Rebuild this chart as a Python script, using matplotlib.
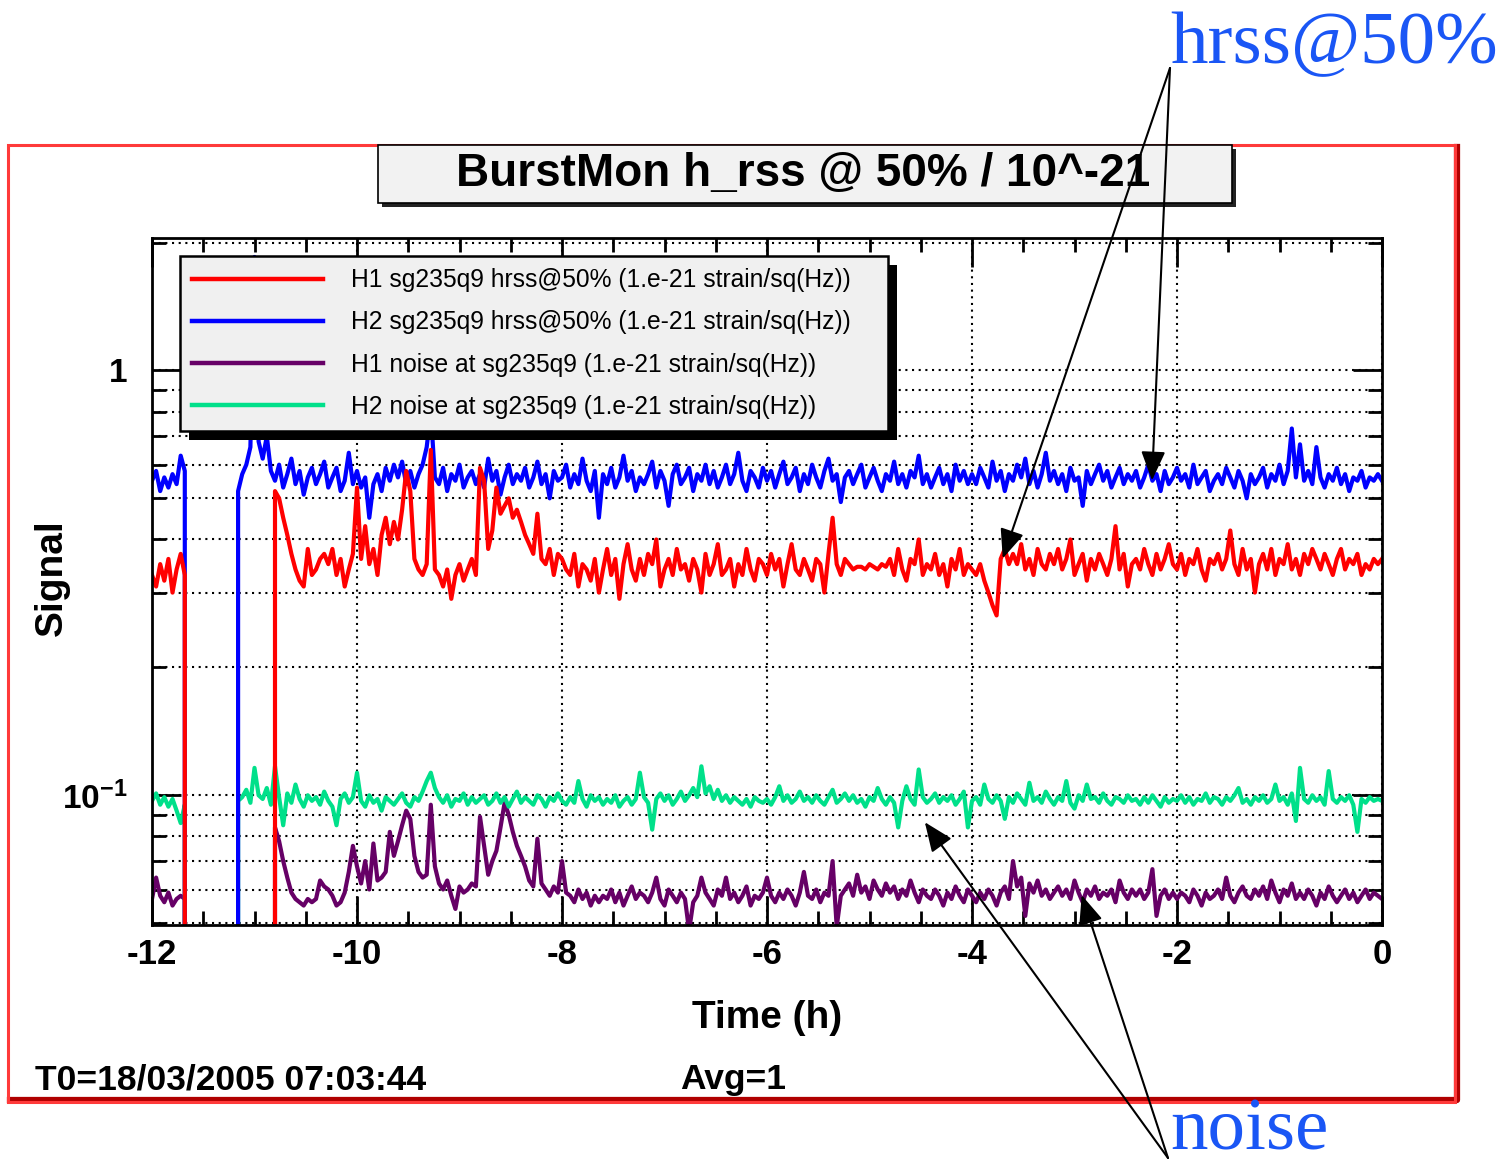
import numpy as np
import matplotlib
matplotlib.use('Agg')
import matplotlib.pyplot as plt
import matplotlib.patches as mpatches
import matplotlib.ticker as mticker
from matplotlib.lines import Line2D
from matplotlib import font_manager

# data: one sample every 0.04 h from -12 h to 0 h, 0 = no data
h1_hrss = [
    0.33, 0.31, 0.35, 0.32, 0.36, 0.30, 0.34, 0.37, 0.33, 0,
    0, 0, 0, 0, 0, 0, 0, 0, 0, 0,
    0, 0, 0, 0, 0, 0, 0, 0, 0, 0,
    0.52, 0.50, 0.45, 0.41, 0.37, 0.34, 0.32, 0.31, 0.38, 0.33,
    0.34, 0.36, 0.37, 0.35, 0.38, 0.33, 0.36, 0.31, 0.34, 0.37,
    0.53, 0.36, 0.43, 0.35, 0.38, 0.33, 0.41, 0.45, 0.39, 0.44,
    0.40, 0.47, 0.58, 0.52, 0.36, 0.34, 0.33, 0.35, 0.65, 0.34,
    0.33, 0.31, 0.34, 0.29, 0.33, 0.35, 0.32, 0.34, 0.36, 0.33,
    0.59, 0.55, 0.38, 0.42, 0.53, 0.46, 0.48, 0.50, 0.45, 0.47,
    0.44, 0.41, 0.39, 0.37, 0.46, 0.36, 0.35, 0.38, 0.33, 0.37,
    0.36, 0.34, 0.33, 0.37, 0.31, 0.35, 0.34, 0.32, 0.36, 0.30,
    0.34, 0.38, 0.33, 0.36, 0.29, 0.35, 0.39, 0.34, 0.32, 0.36,
    0.33, 0.37, 0.35, 0.40, 0.31, 0.34, 0.36, 0.33, 0.38, 0.34,
    0.35, 0.32, 0.36, 0.34, 0.30, 0.37, 0.33, 0.35, 0.39, 0.33,
    0.34, 0.36, 0.31, 0.35, 0.33, 0.38, 0.34, 0.32, 0.36, 0.35,
    0.33, 0.37, 0.34, 0.36, 0.31, 0.35, 0.39, 0.34, 0.33, 0.36,
    0.34, 0.32, 0.36, 0.35, 0.30, 0.37, 0.45, 0.35, 0.33, 0.36,
    0.35, 0.34, 0.345, 0.345, 0.34, 0.35, 0.345, 0.34, 0.35, 0.345,
    0.36, 0.33, 0.38, 0.34, 0.32, 0.36, 0.35, 0.40, 0.33, 0.35,
    0.34, 0.37, 0.33, 0.35, 0.31, 0.36, 0.34, 0.38, 0.33, 0.35,
    0.34, 0.33, 0.35, 0.32, 0.30, 0.28, 0.265, 0.36, 0.38, 0.35,
    0.37, 0.35, 0.39, 0.34, 0.36, 0.33, 0.38, 0.35, 0.34, 0.37,
    0.35, 0.38, 0.34, 0.36, 0.40, 0.33, 0.35, 0.37, 0.32, 0.36,
    0.34, 0.37, 0.35, 0.33, 0.36, 0.43, 0.34, 0.37, 0.31, 0.35,
    0.36, 0.34, 0.38, 0.35, 0.33, 0.37, 0.34, 0.36, 0.39, 0.35,
    0.34, 0.37, 0.33, 0.36, 0.35, 0.38, 0.34, 0.32, 0.36, 0.35,
    0.37, 0.34, 0.36, 0.42, 0.35, 0.33, 0.38, 0.34, 0.36, 0.30,
    0.35, 0.37, 0.34, 0.38, 0.33, 0.36, 0.35, 0.39, 0.34, 0.36,
    0.33, 0.37, 0.35, 0.38, 0.36, 0.34, 0.37, 0.35, 0.33, 0.36,
    0.38, 0.34, 0.36, 0.35, 0.37, 0.33, 0.35, 0.34, 0.36, 0.35,
    0.36]

h2_hrss = [
    0.55, 0.58, 0.52, 0.56, 0.53, 0.57, 0.54, 0.63, 0.58, 0,
    0, 0, 0, 0, 0, 0, 0, 0, 0, 0,
    0, 0.52, 0.57, 0.60, 0.66, 1.85, 0.68, 0.62, 0.70, 0.58,
    0.55, 0.60, 0.53, 0.57, 0.62, 0.54, 0.58, 0.51, 0.56, 0.59,
    0.54, 0.57, 0.61, 0.53, 0.56, 0.59, 0.52, 0.55, 0.64, 0.54,
    0.58, 0.53, 0.56, 0.45, 0.54, 0.57, 0.52, 0.59, 0.55, 0.60,
    0.56, 0.61, 0.54, 0.58, 0.53, 0.57, 0.60, 0.66, 0.80, 0.56,
    0.54, 0.59, 0.52, 0.57, 0.55, 0.60, 0.53, 0.56, 0.58, 0.54,
    0.57, 0.53, 0.62, 0.55, 0.58, 0.51, 0.56, 0.60, 0.54, 0.57,
    0.55, 0.59, 0.53, 0.56, 0.61, 0.54, 0.57, 0.50, 0.58, 0.55,
    0.56, 0.60, 0.53, 0.57, 0.54, 0.62, 0.55, 0.52, 0.58, 0.45,
    0.57, 0.54, 0.59, 0.53, 0.56, 0.63, 0.55, 0.58, 0.52, 0.56,
    0.54, 0.57, 0.61, 0.53, 0.58, 0.55, 0.48, 0.57, 0.60, 0.54,
    0.56, 0.59, 0.52, 0.57, 0.55, 0.60, 0.54, 0.58, 0.53, 0.56,
    0.60, 0.54, 0.57, 0.64, 0.55, 0.52, 0.58, 0.56, 0.53, 0.59,
    0.55, 0.58, 0.53, 0.57, 0.61, 0.54, 0.56, 0.59, 0.52, 0.57,
    0.54, 0.60, 0.56, 0.53, 0.58, 0.62, 0.55, 0.57, 0.49, 0.56,
    0.58, 0.54, 0.57, 0.60, 0.53, 0.56, 0.59, 0.55, 0.52, 0.57,
    0.55, 0.61, 0.54, 0.57, 0.53, 0.58, 0.56, 0.63, 0.54, 0.57,
    0.53, 0.56, 0.59, 0.54, 0.57, 0.52, 0.60, 0.55, 0.58, 0.54,
    0.57, 0.54, 0.59, 0.56, 0.53, 0.61, 0.55, 0.58, 0.52, 0.57,
    0.55, 0.60, 0.56, 0.62, 0.54, 0.58, 0.53, 0.57, 0.64, 0.55,
    0.58, 0.54, 0.57, 0.52, 0.59, 0.55, 0.56, 0.48, 0.58, 0.54,
    0.57, 0.60, 0.55, 0.58, 0.53, 0.56, 0.59, 0.54, 0.57, 0.55,
    0.58, 0.53, 0.56, 0.60, 0.55, 0.57, 0.52, 0.58, 0.54, 0.56,
    0.59, 0.55, 0.57, 0.53, 0.60, 0.54, 0.56, 0.58, 0.52, 0.55,
    0.57, 0.54, 0.59, 0.56, 0.53, 0.58, 0.55, 0.50, 0.57, 0.54,
    0.56, 0.59, 0.53, 0.57, 0.55, 0.60, 0.54, 0.58, 0.73, 0.56,
    0.67, 0.55, 0.58, 0.54, 0.66, 0.56, 0.53, 0.57, 0.55, 0.59,
    0.54, 0.57, 0.52, 0.56, 0.55, 0.58, 0.53, 0.56, 0.55, 0.57,
    0.55]

h1_noise = [
    0.057, 0.064, 0.058, 0.056, 0.059, 0.055, 0.057, 0.058, 0.057, 0,
    0, 0, 0, 0, 0, 0, 0, 0, 0, 0,
    0, 0, 0, 0, 0, 0, 0, 0, 0, 0,
    0.084, 0.078, 0.070, 0.064, 0.059, 0.057, 0.056, 0.055, 0.057, 0.056,
    0.057, 0.063, 0.061, 0.060, 0.058, 0.055, 0.056, 0.059, 0.066, 0.076,
    0.068, 0.062, 0.070, 0.060, 0.077, 0.063, 0.064, 0.066, 0.082, 0.072,
    0.078, 0.085, 0.092, 0.088, 0.072, 0.066, 0.064, 0.065, 0.095, 0.068,
    0.062, 0.060, 0.063, 0.058, 0.054, 0.061, 0.059, 0.060, 0.062, 0.061,
    0.089, 0.076, 0.065, 0.070, 0.074, 0.084, 0.096, 0.090, 0.082, 0.076,
    0.072, 0.068, 0.063, 0.061, 0.079, 0.062, 0.060, 0.058, 0.061, 0.059,
    0.070, 0.059, 0.058, 0.056, 0.060, 0.057, 0.059, 0.055, 0.058, 0.056,
    0.058, 0.057, 0.060, 0.056, 0.059, 0.055, 0.058, 0.061, 0.057, 0.059,
    0.058, 0.056, 0.059, 0.064, 0.057, 0.055, 0.060, 0.058, 0.056, 0.059,
    0.057, 0.048, 0.056, 0.058, 0.064, 0.059, 0.057, 0.055, 0.060, 0.058,
    0.064, 0.057, 0.059, 0.056, 0.058, 0.061, 0.055, 0.058, 0.057, 0.059,
    0.064, 0.058, 0.056, 0.059, 0.057, 0.060, 0.058, 0.055, 0.059, 0.066,
    0.058, 0.057, 0.060, 0.056, 0.059, 0.058, 0.070, 0.049, 0.058, 0.060,
    0.062, 0.058, 0.065, 0.059, 0.061, 0.057, 0.063, 0.060, 0.058, 0.062,
    0.059, 0.061, 0.057, 0.060, 0.058, 0.063, 0.059, 0.056, 0.060, 0.058,
    0.057, 0.060, 0.058, 0.055, 0.059, 0.057, 0.061, 0.058, 0.056, 0.060,
    0.058, 0.056, 0.059, 0.057, 0.060, 0.058, 0.055, 0.059, 0.061, 0.057,
    0.070, 0.061, 0.064, 0.052, 0.062, 0.059, 0.063, 0.058, 0.060, 0.057,
    0.059, 0.061, 0.058, 0.060, 0.057, 0.063, 0.059, 0.056, 0.060, 0.058,
    0.061, 0.057, 0.059, 0.058, 0.060, 0.056, 0.063, 0.059, 0.057, 0.060,
    0.058, 0.060, 0.057, 0.059, 0.067, 0.052, 0.058, 0.060, 0.057, 0.059,
    0.057, 0.059, 0.058, 0.056, 0.060, 0.058, 0.055, 0.059, 0.057, 0.058,
    0.060, 0.057, 0.064, 0.058, 0.056, 0.059, 0.061, 0.058, 0.057, 0.060,
    0.058, 0.061, 0.057, 0.063, 0.059, 0.056, 0.060, 0.058, 0.062, 0.057,
    0.059, 0.057, 0.060, 0.058, 0.055, 0.059, 0.057, 0.061, 0.058, 0.056,
    0.058, 0.060, 0.057, 0.059, 0.056, 0.058, 0.060, 0.057, 0.059, 0.058,
    0.057]

h2_noise = [
    0.097, 0.101, 0.095, 0.099, 0.094, 0.098, 0.092, 0.086, 0.095, 0,
    0, 0, 0, 0, 0, 0, 0, 0, 0, 0,
    0, 0.097, 0.099, 0.103, 0.096, 0.116, 0.100, 0.098, 0.104, 0.095,
    0.117, 0.099, 0.085, 0.101, 0.096, 0.106, 0.098, 0.094, 0.100, 0.097,
    0.099, 0.095, 0.102, 0.097, 0.094, 0.085, 0.098, 0.101, 0.096, 0.099,
    0.113, 0.097, 0.094, 0.100, 0.096, 0.098, 0.092, 0.099, 0.097, 0.095,
    0.098, 0.101, 0.096, 0.094, 0.099, 0.097, 0.102, 0.108, 0.113, 0.104,
    0.099, 0.096, 0.100, 0.094, 0.098, 0.097, 0.101, 0.095, 0.099, 0.096,
    0.098, 0.100, 0.095, 0.097, 0.101, 0.096, 0.099, 0.094, 0.098, 0.102,
    0.096, 0.099, 0.097, 0.095, 0.100, 0.098, 0.094, 0.099, 0.097, 0.101,
    0.097, 0.095, 0.099, 0.096, 0.108, 0.098, 0.094, 0.100, 0.097, 0.099,
    0.095, 0.098, 0.096, 0.100, 0.094, 0.097, 0.099, 0.095, 0.098, 0.113,
    0.099, 0.096, 0.083, 0.098, 0.101, 0.097, 0.100, 0.095, 0.098, 0.102,
    0.097, 0.100, 0.104, 0.099, 0.117, 0.101, 0.105, 0.098, 0.103, 0.097,
    0.100, 0.096, 0.099, 0.097, 0.095, 0.098, 0.094, 0.099, 0.097, 0.096,
    0.098, 0.095, 0.099, 0.105, 0.097, 0.100, 0.096, 0.098, 0.102, 0.097,
    0.099, 0.096, 0.100, 0.097, 0.095, 0.099, 0.103, 0.096, 0.098, 0.101,
    0.097, 0.100, 0.096, 0.098, 0.094, 0.099, 0.097, 0.104, 0.098, 0.095,
    0.099, 0.096, 0.084, 0.097, 0.105, 0.098, 0.095, 0.115, 0.099, 0.096,
    0.098, 0.101, 0.096, 0.099, 0.097, 0.100, 0.095, 0.098, 0.102, 0.084,
    0.097, 0.099, 0.095, 0.106, 0.098, 0.096, 0.100, 0.097, 0.088, 0.099,
    0.096, 0.101, 0.098, 0.095, 0.107, 0.097, 0.099, 0.096, 0.102, 0.098,
    0.095, 0.099, 0.097, 0.108, 0.096, 0.093, 0.100, 0.097, 0.106, 0.098,
    0.099, 0.096, 0.101, 0.097, 0.095, 0.099, 0.098, 0.096, 0.100, 0.097,
    0.098, 0.095, 0.099, 0.096, 0.100, 0.097, 0.094, 0.099, 0.096, 0.098,
    0.097, 0.100, 0.096, 0.099, 0.095, 0.098, 0.097, 0.101, 0.096, 0.099,
    0.098, 0.095, 0.099, 0.097, 0.100, 0.104, 0.096, 0.098, 0.095, 0.099,
    0.097, 0.100, 0.096, 0.098, 0.106, 0.097, 0.099, 0.095, 0.101, 0.087,
    0.116, 0.098, 0.096, 0.100, 0.097, 0.099, 0.095, 0.114, 0.098, 0.096,
    0.099, 0.097, 0.100, 0.095, 0.082, 0.098, 0.096, 0.099, 0.097, 0.098,
    0.097]

labels = ['H1 sg235q9 hrss@50% (1.e-21 strain/sq(Hz))',
          'H2 sg235q9 hrss@50% (1.e-21 strain/sq(Hz))',
          'H1 noise at sg235q9 (1.e-21 strain/sq(Hz))',
          'H2 noise at sg235q9 (1.e-21 strain/sq(Hz))']
xticks = [-12, -10, -8, -6, -4, -2, 0]

RED, BLUE, PURPLE, GREEN = '#ff0000', '#0000ff', '#660066', '#00e08a'
NOTE = '#1a56f5'

names = {f.name for f in font_manager.fontManager.ttflist}
SANS = 'Liberation Sans Narrow' if 'Liberation Sans Narrow' in names else 'Liberation Sans'
plt.rcParams['font.family'] = [SANS, 'DejaVu Sans']
plt.rcParams['font.weight'] = 'bold'
plt.rcParams['axes.unicode_minus'] = False
plt.rcParams['mathtext.fontset'] = 'custom'
plt.rcParams['mathtext.rm'] = SANS
plt.rcParams['mathtext.bf'] = SANS + ':bold'

W, H = 1502.0, 1168.0
def fx(px):
    return px / W
def fy(py):
    return 1 - py / H

fig = plt.figure(figsize=(15.02, 11.68), dpi=100)

# canvas frame (red, darker bottom/right edge)
fig.add_artist(Line2D([fx(10), fx(1457), fx(1457)], [fy(1100), fy(1100), fy(147)],
                      color='#b00000', lw=4.5, transform=fig.transFigure, zorder=0.5))
fig.add_artist(mpatches.Rectangle((fx(8), fy(1102)), fx(1455) - fx(8), fy(145) - fy(1102),
                                  transform=fig.transFigure, fill=False,
                                  edgecolor='#ff3a3a', lw=2.2, zorder=0.6))

# title box
fig.add_artist(mpatches.Rectangle((fx(382), fy(207)), fx(1232) - fx(378), fy(145) - fy(203),
                                  transform=fig.transFigure, facecolor='#222222',
                                  edgecolor='none', zorder=1))
fig.add_artist(mpatches.Rectangle((fx(378), fy(203)), fx(1232) - fx(378), fy(145) - fy(203),
                                  transform=fig.transFigure, facecolor='#f2f2f2',
                                  edgecolor='black', lw=1.2, zorder=1.1))
fig.text(fx(803), fy(174), 'BurstMon h_rss @ 50% / 10^-21', ha='center', va='center',
         fontsize=33, fontweight='bold', zorder=4)

ax = fig.add_axes([fx(152), fy(925), fx(1382) - fx(152), fy(238) - fy(925)])
ax.set_zorder(2)

t = np.linspace(-12, 0, len(h1_hrss))
l3, = ax.plot(t, h1_noise, color=PURPLE, lw=3, zorder=2)
l4, = ax.plot(t, h2_noise, color=GREEN, lw=3, zorder=2.1)
l2, = ax.plot(t, h2_hrss, color=BLUE, lw=3, zorder=2.2)
l1, = ax.plot(t, h1_hrss, color=RED, lw=3, zorder=2.3)

ax.set_yscale('log')
ax.set_xlim(-12, 0)
ax.set_ylim(0.0495, 2.05)
ax.set_xticks(xticks)
ax.set_xticklabels([str(v) for v in xticks])
ax.xaxis.set_minor_locator(mticker.MultipleLocator(0.5))
ax.set_yticks([0.1, 1])
ax.set_yticklabels([r'$\mathbf{10^{-1}}$', '1'])
ax.yaxis.set_minor_locator(mticker.LogLocator(subs=np.arange(2, 10)))
ax.yaxis.set_minor_formatter(mticker.NullFormatter())

ax.tick_params(which='both', direction='in', top=True, right=True, width=2)
ax.tick_params(which='major', length=21)
ax.tick_params(which='minor', length=10)
ax.tick_params(axis='x', labelsize=25, pad=9)
ax.tick_params(axis='y', labelsize=24, pad=18)
for s in ax.spines.values():
    s.set_linewidth(2)

ax.set_axisbelow(True)
ax.xaxis.grid(True, which='major', color='black', linestyle=(0, (1, 2.2)), lw=1.5)
ax.yaxis.grid(True, which='both', color='black', linestyle=(0, (1, 2.2)), lw=1.5)

leg = ax.legend([l1, l2, l3, l4], labels, loc='upper left', mode='expand',
                bbox_to_anchor=((180 - 152) / 1230, (925 - 425) / 687, 708 / 1230, 169 / 687),
                borderaxespad=0, fancybox=False, framealpha=1,
                facecolor='#f0f0f0', edgecolor='black',
                prop={'weight': 'normal', 'size': 17.7},
                handlelength=5.3, handletextpad=1.15, labelspacing=0.74, borderpad=0.5)
leg.get_frame().set_linewidth(1.8)
for ln in leg.get_lines():
    ln.set_linewidth(3.2)

fig.canvas.draw()
bb = leg.get_window_extent(fig.canvas.get_renderer()).transformed(fig.transFigure.inverted())
ax.add_artist(mpatches.Rectangle((bb.x0 + 9 / W, bb.y0 - 9 / H), bb.width, bb.height,
                                 transform=fig.transFigure, facecolor='black',
                                 edgecolor='none', zorder=4.9, clip_on=False))

# axis titles and info line
fig.text(fx(52), fy(578), 'Signal', rotation=90, ha='center', va='center', fontsize=28)
fig.text(fx(767), fy(1018), 'Time (h)', ha='center', va='center', fontsize=28)
fig.text(fx(35), fy(1080), 'T0=18/03/2005 07:03:44', ha='left', va='center', fontsize=25.5)
fig.text(fx(680), fy(1080), 'Avg=1', ha='left', va='center', fontsize=25.5)

# callouts
fig.text(fx(1170), fy(63), 'hrss@50%', color=NOTE, fontsize=54, fontweight='normal',
         family=['Liberation Serif', 'DejaVu Serif'], ha='left', va='baseline', zorder=5)
fig.text(fx(1170), fy(1150), 'noise', color=NOTE, fontsize=54, fontweight='normal',
         family=['Liberation Serif', 'DejaVu Serif'], ha='left', va='baseline', zorder=5)

arrow = dict(arrowstyle='-|>,head_length=0.6,head_width=0.25', color='black', lw=1.5,
             mutation_scale=30, shrinkA=0, shrinkB=0)
for target in [(-3.70, 0.361), (-2.244, 0.551)]:
    ax.annotate('', xy=target, xytext=(fx(1170), fy(68)), textcoords='figure fraction',
                arrowprops=arrow, annotation_clip=False, zorder=6)
for target in [(-4.46, 0.0864), (-2.93, 0.0582)]:
    ax.annotate('', xy=target, xytext=(fx(1168), fy(1158)), textcoords='figure fraction',
                arrowprops=arrow, annotation_clip=False, zorder=6)

fig.savefig('out.png', dpi=100)
